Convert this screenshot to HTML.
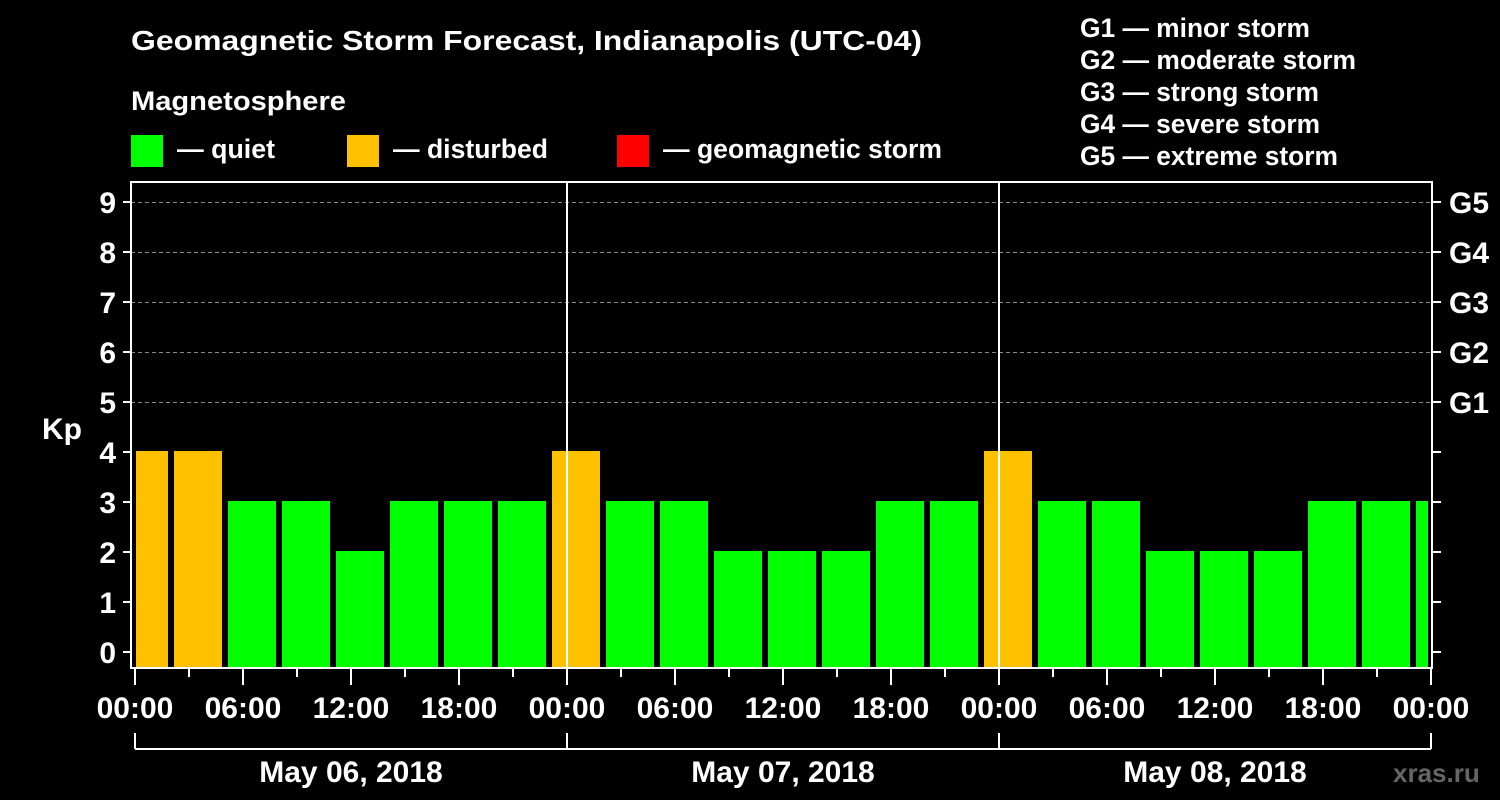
<!DOCTYPE html>
<html><head><meta charset="utf-8"><style>html,body{margin:0;background:#000;}svg{display:block}</style></head>
<body>
<svg width="1500" height="800" xmlns="http://www.w3.org/2000/svg" font-family="Liberation Sans, Arial, sans-serif" font-weight="bold" fill="#fff">
<rect width="1500" height="800" fill="#000"/>
<text x="131" y="50" font-size="28" textLength="791" lengthAdjust="spacingAndGlyphs">Geomagnetic Storm Forecast, Indianapolis (UTC-04)</text>
<text x="131" y="110" font-size="27" textLength="215" lengthAdjust="spacingAndGlyphs">Magnetosphere</text>
<rect x="131" y="135" width="32" height="32" fill="#00ff00"/>
<text x="177" y="158" font-size="26.5" textLength="98" lengthAdjust="spacingAndGlyphs">— quiet</text>
<rect x="347" y="135" width="32" height="32" fill="#ffc000"/>
<text x="393" y="158" font-size="26.5" textLength="155" lengthAdjust="spacingAndGlyphs">— disturbed</text>
<rect x="617" y="135" width="32" height="32" fill="#ff0000"/>
<text x="663" y="158" font-size="26.5" textLength="279" lengthAdjust="spacingAndGlyphs">— geomagnetic storm</text>
<g font-size="26.5">
<text x="1080" y="37" textLength="230" lengthAdjust="spacingAndGlyphs">G1 — minor storm</text>
<text x="1080" y="69" textLength="276" lengthAdjust="spacingAndGlyphs">G2 — moderate storm</text>
<text x="1080" y="101" textLength="239" lengthAdjust="spacingAndGlyphs">G3 — strong storm</text>
<text x="1080" y="133" textLength="240" lengthAdjust="spacingAndGlyphs">G4 — severe storm</text>
<text x="1080" y="165" textLength="258" lengthAdjust="spacingAndGlyphs">G5 — extreme storm</text>
</g>
<g stroke="#888" stroke-dasharray="4,3" stroke-width="1">
<line x1="131" x2="1432" y1="202.5" y2="202.5"/>
<line x1="131" x2="1432" y1="252.5" y2="252.5"/>
<line x1="131" x2="1432" y1="302.5" y2="302.5"/>
<line x1="131" x2="1432" y1="352.5" y2="352.5"/>
<line x1="131" x2="1432" y1="402.5" y2="402.5"/>
</g>
<g>
<rect x="136" y="451" width="32" height="217" fill="#ffc000"/>
<rect x="174" y="451" width="48" height="217" fill="#ffc000"/>
<rect x="228" y="501" width="48" height="167" fill="#00ff00"/>
<rect x="282" y="501" width="48" height="167" fill="#00ff00"/>
<rect x="336" y="551" width="48" height="117" fill="#00ff00"/>
<rect x="390" y="501" width="48" height="167" fill="#00ff00"/>
<rect x="444" y="501" width="48" height="167" fill="#00ff00"/>
<rect x="498" y="501" width="48" height="167" fill="#00ff00"/>
<rect x="552" y="451" width="48" height="217" fill="#ffc000"/>
<rect x="606" y="501" width="48" height="167" fill="#00ff00"/>
<rect x="660" y="501" width="48" height="167" fill="#00ff00"/>
<rect x="714" y="551" width="48" height="117" fill="#00ff00"/>
<rect x="768" y="551" width="48" height="117" fill="#00ff00"/>
<rect x="822" y="551" width="48" height="117" fill="#00ff00"/>
<rect x="876" y="501" width="48" height="167" fill="#00ff00"/>
<rect x="930" y="501" width="48" height="167" fill="#00ff00"/>
<rect x="984" y="451" width="48" height="217" fill="#ffc000"/>
<rect x="1038" y="501" width="48" height="167" fill="#00ff00"/>
<rect x="1092" y="501" width="48" height="167" fill="#00ff00"/>
<rect x="1146" y="551" width="48" height="117" fill="#00ff00"/>
<rect x="1200" y="551" width="48" height="117" fill="#00ff00"/>
<rect x="1254" y="551" width="48" height="117" fill="#00ff00"/>
<rect x="1308" y="501" width="48" height="167" fill="#00ff00"/>
<rect x="1362" y="501" width="48" height="167" fill="#00ff00"/>
<rect x="1416" y="501" width="12" height="167" fill="#00ff00"/>
</g>
<g stroke="#fff" stroke-width="2" fill="none">
<rect x="131" y="182" width="1301" height="486"/>
<line x1="567" x2="567" y1="182" y2="668"/>
<line x1="999" x2="999" y1="182" y2="668"/>
</g>
<g stroke="#fff" stroke-width="2">
<line x1="123" x2="131" y1="652" y2="652"/><line x1="123" x2="131" y1="602" y2="602"/><line x1="123" x2="131" y1="552" y2="552"/><line x1="123" x2="131" y1="502" y2="502"/><line x1="123" x2="131" y1="452" y2="452"/><line x1="123" x2="131" y1="402" y2="402"/><line x1="123" x2="131" y1="352" y2="352"/><line x1="123" x2="131" y1="302" y2="302"/><line x1="123" x2="131" y1="252" y2="252"/><line x1="123" x2="131" y1="202" y2="202"/>
<line x1="1432" x2="1441" y1="652" y2="652"/><line x1="1432" x2="1441" y1="602" y2="602"/><line x1="1432" x2="1441" y1="552" y2="552"/><line x1="1432" x2="1441" y1="502" y2="502"/><line x1="1432" x2="1441" y1="452" y2="452"/><line x1="1432" x2="1441" y1="402" y2="402"/><line x1="1432" x2="1441" y1="352" y2="352"/><line x1="1432" x2="1441" y1="302" y2="302"/><line x1="1432" x2="1441" y1="252" y2="252"/><line x1="1432" x2="1441" y1="202" y2="202"/>
</g>
<g font-size="30" text-anchor="end">
<text x="116" y="663">0</text><text x="116" y="613">1</text><text x="116" y="563">2</text><text x="116" y="513">3</text><text x="116" y="463">4</text><text x="116" y="413">5</text><text x="116" y="363">6</text><text x="116" y="313">7</text><text x="116" y="263">8</text><text x="116" y="213">9</text>
</g>
<text x="42" y="439" font-size="30">Kp</text>
<g font-size="30">
<text x="1449" y="213">G5</text><text x="1449" y="263">G4</text><text x="1449" y="313">G3</text><text x="1449" y="363">G2</text><text x="1449" y="413">G1</text>
</g>
<g stroke="#fff" stroke-width="2">
<line x1="135" x2="135" y1="668" y2="685"/><line x1="189" x2="189" y1="668" y2="677"/><line x1="243" x2="243" y1="668" y2="685"/><line x1="297" x2="297" y1="668" y2="677"/><line x1="351" x2="351" y1="668" y2="685"/><line x1="405" x2="405" y1="668" y2="677"/><line x1="459" x2="459" y1="668" y2="685"/><line x1="513" x2="513" y1="668" y2="677"/>
<line x1="567" x2="567" y1="668" y2="685"/><line x1="621" x2="621" y1="668" y2="677"/><line x1="675" x2="675" y1="668" y2="685"/><line x1="729" x2="729" y1="668" y2="677"/><line x1="783" x2="783" y1="668" y2="685"/><line x1="837" x2="837" y1="668" y2="677"/><line x1="891" x2="891" y1="668" y2="685"/><line x1="945" x2="945" y1="668" y2="677"/>
<line x1="999" x2="999" y1="668" y2="685"/><line x1="1053" x2="1053" y1="668" y2="677"/><line x1="1107" x2="1107" y1="668" y2="685"/><line x1="1161" x2="1161" y1="668" y2="677"/><line x1="1215" x2="1215" y1="668" y2="685"/><line x1="1269" x2="1269" y1="668" y2="677"/><line x1="1323" x2="1323" y1="668" y2="685"/><line x1="1377" x2="1377" y1="668" y2="677"/><line x1="1431" x2="1431" y1="668" y2="685"/>
<line x1="135" x2="1431" y1="749" y2="749"/>
<line x1="135" x2="135" y1="733" y2="749"/><line x1="567" x2="567" y1="733" y2="749"/><line x1="999" x2="999" y1="733" y2="749"/><line x1="1431" x2="1431" y1="733" y2="749"/>
</g>
<g font-size="30" text-anchor="middle">
<text x="135" y="718">00:00</text><text x="243" y="718">06:00</text><text x="351" y="718">12:00</text><text x="459" y="718">18:00</text>
<text x="567" y="718">00:00</text><text x="675" y="718">06:00</text><text x="783" y="718">12:00</text><text x="891" y="718">18:00</text>
<text x="999" y="718">00:00</text><text x="1107" y="718">06:00</text><text x="1215" y="718">12:00</text><text x="1323" y="718">18:00</text>
<text x="1431" y="718">00:00</text>
<text x="351" y="782">May 06, 2018</text><text x="783" y="782">May 07, 2018</text><text x="1215" y="782">May 08, 2018</text>
</g>
<text x="1393" y="782" font-size="26" fill="#666">xras.ru</text>
</svg>
</body></html>
